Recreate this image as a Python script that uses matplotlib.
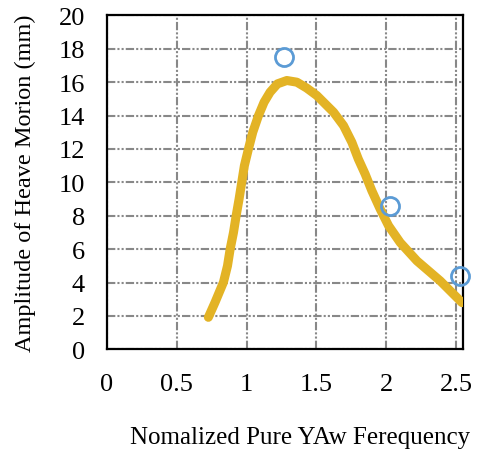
import matplotlib
matplotlib.use("Agg")
import matplotlib.pyplot as plt

# curve
freq = [0.726, 0.774, 0.834, 0.863, 0.882, 0.906, 0.925, 0.946, 0.965, 0.984,
        1.013, 1.044, 1.085, 1.125, 1.168, 1.221, 1.288, 1.36, 1.43, 1.503,
        1.623, 1.694, 1.754, 1.80, 1.849, 1.897, 1.957, 2.017, 2.10, 2.22,
        2.387, 2.543]
amp = [1.92, 2.82, 4.02, 5.0, 6.0, 7.0, 8.0, 9.0, 10.0, 11.0,
       12.0, 13.0, 14.0, 14.8, 15.4, 15.9, 16.1, 16.0, 15.65, 15.2,
       14.2, 13.4, 12.4, 11.4, 10.5, 9.5, 8.4, 7.4, 6.4, 5.3,
       4.1, 2.8]

# measured points
exp_freq = [1.27, 2.025, 2.53]
exp_amp = [17.5, 8.6, 4.38]

plt.rcParams['font.family'] = ['Liberation Serif', 'DejaVu Serif']

fig = plt.figure(figsize=(4.79, 4.56), dpi=100)
ax = fig.add_axes([0.2234, 0.2316, 0.7432, 0.7325])

ax.plot(freq, amp, color='#e3b325', lw=6.5, solid_capstyle='round',
        solid_joinstyle='round', zorder=3)
ax.plot(exp_freq, exp_amp, 'o', mfc='none', mec='#5b9bd5', ms=13, mew=2,
        zorder=4, clip_on=False)

ax.set_xlim(0, 2.55)
ax.set_ylim(0, 20)
ax.set_xticks([0, 0.5, 1, 1.5, 2, 2.5])
ax.set_xticklabels(['0', '0.5', '1', '1.5', '2', '2.5'])
ax.set_yticks(range(0, 21, 2))

ax.grid(True, color='#888888', lw=1.5, linestyle=(0, (4, 1, 1, 1, 1, 1)))
ax.set_axisbelow(True)
for s in ax.spines.values():
    s.set_color('black')
    s.set_linewidth(1.6)

ax.tick_params(length=0, labelsize=19, pad=16)
ax.tick_params(axis='x', pad=17)

ax.set_ylabel('Amplitude of Heave Morion (mm)', fontsize=17.5)
ax.yaxis.set_label_coords(-(107 - 36) / 356, 0.5)
ax.set_xlabel('Nomalized Pure YAw Ferequency', fontsize=18)
ax.xaxis.set_label_coords((300 - 107) / 356, -(428 - 351) / 334)

fig.savefig('out.png', dpi=100)
